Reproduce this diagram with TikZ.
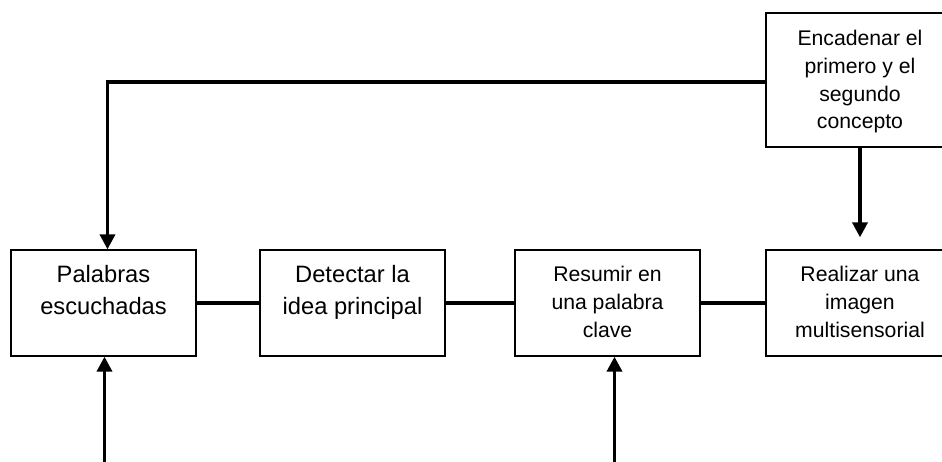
\documentclass[tikz,border=0pt]{standalone}
\usepackage{fontspec}
\setmainfont{Liberation Sans}
\usepackage{tikz}
\usetikzlibrary{arrows.meta}
\tikzset{caja/.style = {draw, line width=1.3pt, inner sep=0pt},
         letra/.style = {font=\fontsize{21.2}{27.7}\selectfont},
         letragrande/.style = {font=\fontsize{23.7}{31.5}\selectfont},
         linea/.style = {line width=3.5pt},
         flecha/.style = {line width=3.5pt, -{Triangle[length=15pt, width=15pt]}}}
\newcommand{\contenido}[4]{\parbox[c][#2][t]{#1}{\centering\vspace*{#3}\strut #4}}

\begin{document}
\begin{tikzpicture}[x=1pt, y=-1pt]
    \clip (0, 0) rectangle (942, 462);

    \node [caja, letragrande] (palabras) at (103.5, 303)
      {\contenido{185pt}{106pt}{10.6pt}{Palabras\\escuchadas}};
    \node [caja, letragrande] (detectar) at (352.5, 303)
      {\contenido{185pt}{106pt}{10.6pt}{Detectar la\\idea principal}};
    \node [caja, letra] (resumir) at (607.5, 303)
      {\contenido{185pt}{106pt}{12.3pt}{Resumir en\\una palabra\\clave}};
    \node [caja, letra] (realizar) at (860, 303)
      {\contenido{188pt}{106pt}{12.3pt}{Realizar una\\imagen\\multisensorial}};
    \node [caja, letra] (encadenar) at (860, 80)
      {\contenido{188pt}{134pt}{13.3pt}{Encadenar el\\primero y el\\segundo\\concepto}};

    \coordinate (entrada1) at (104.5, 470);
    \coordinate (entrada2) at (614.5, 470);

    \draw [linea] (palabras.east) -- (detectar.west);
    \draw [linea] (detectar.east) -- (resumir.west);
    \draw [linea] (resumir.east) -- (realizar.west);

    % vuelta al principio
    \draw [flecha] ([yshift=-2pt]encadenar.west) -| ([xshift=4pt]palabras.north);
    \draw [flecha, shorten >=12pt] (encadenar.south) -- (realizar.north);

    \draw [flecha] (entrada1) -- ([xshift=1pt]palabras.south);
    \draw [flecha] (entrada2) -- ([xshift=7pt]resumir.south);
\end{tikzpicture}
\end{document}
